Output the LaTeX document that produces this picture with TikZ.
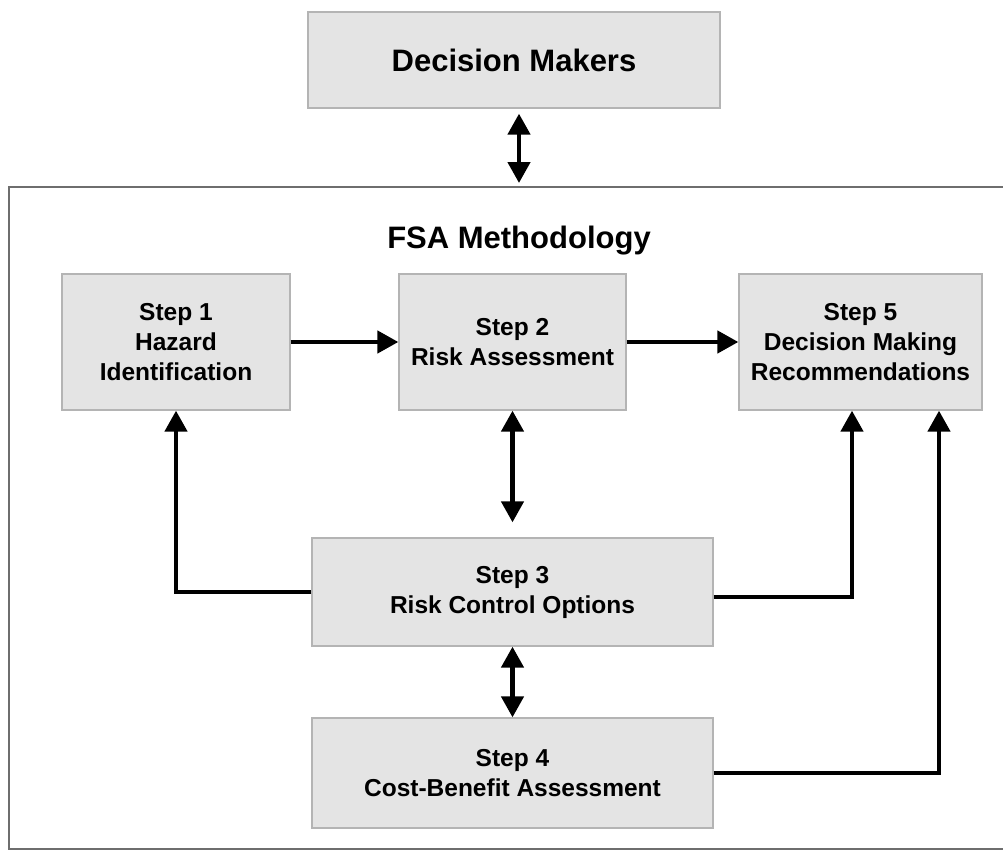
\documentclass[tikz,border=0pt]{standalone}
\usepackage{fontspec}
\setmainfont{Liberation Sans}
\usetikzlibrary{arrows.meta, positioning, calc}
\definecolor{box_gray}{RGB}{228, 228, 228}
\definecolor{edge_gray}{RGB}{180, 180, 180}
\definecolor{frame_gray}{RGB}{110, 110, 110}

\begin{document}
\begin{tikzpicture}[
    x=1pt, y=-1pt,
    % Grey step box
    stepbox/.style={
        rectangle,
        draw=edge_gray,
        line width=1.3pt,
        fill=box_gray,
        align=center,
        inner sep=0pt,
        font=\fontsize{24.5}{30}\selectfont\bfseries
    },
    % One-way flow arrow
    flow/.style={
        -{Triangle[length=21pt, width=22pt]},
        line width=4.5pt,
        black
    },
    % Two-way link
    twoway/.style={
        {Triangle[length=21pt, width=22pt]}-{Triangle[length=21pt, width=22pt]},
        line width=4.5pt,
        black
    }
]

\useasboundingbox (0,0) rectangle (1003,851);

% Decision makers on top
\node[stepbox, minimum width=412pt, minimum height=96pt,
      font=\fontsize{31}{36}\selectfont\bfseries] (makers) at (514,60) {Decision Makers};

% Methodology frame, open to the right
\draw[frame_gray, line width=2.5pt] (1010,187) -- (9,187) -- (9,849) -- (1010,849);
\coordinate (frametop) at (519,187);
\node[anchor=base, font=\fontsize{31}{36}\selectfont\bfseries] (fsa) at (519,248) {FSA Methodology};

% The five steps
\node[stepbox, minimum width=228pt, minimum height=136pt] (hazard) at (176,342) {Step 1\\Hazard\\Identification};
\node[stepbox, minimum width=227pt, minimum height=136pt] (risk) at (512.5,342) {Step 2\\Risk Assessment};
\node[stepbox, minimum width=243pt, minimum height=136pt] (decision) at (860.5,342) {Step 5\\Decision Making\\Recommendations};
\node[stepbox, minimum width=401pt, minimum height=108pt] (control) at (512.5,592) {Step 3\\Risk Control Options};
\node[stepbox, minimum width=401pt, minimum height=110pt] (cost) at (512.5,773) {Step 4\\Cost-Benefit Assessment};

% Links
\draw[twoway] ($(makers.south)+(5,5)$) -- ($(frametop)+(0,-4)$);
\draw[flow] (hazard) -- (risk);
\draw[flow] (risk) -- (decision);
\draw[twoway] (risk.south) -- ($(control.north)+(0,-15)$);
\draw[twoway] (control) -- (cost);

% Feedback loops
\draw[flow] (control.west) -| (hazard.south);
\draw[flow] ($(control.east)+(0,5)$) -| ($(decision.south)+(-8.5,0)$);
\draw[flow] (cost.east) -| ($(decision.south)+(78.5,0)$);

\end{tikzpicture}
\end{document}
